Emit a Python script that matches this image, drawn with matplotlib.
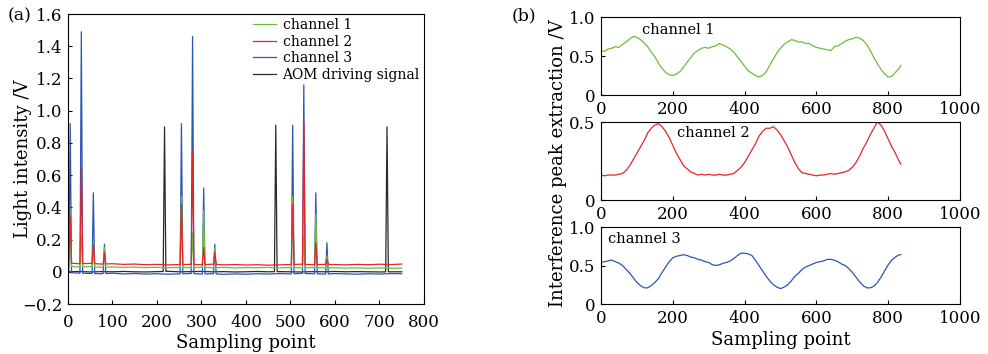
import numpy as np
import matplotlib.pyplot as plt

plt.rcParams['font.family'] = ['DejaVu Serif']

GREEN = '#6cbf3a'
RED = '#e3262b'
BLUE = '#2d55b5'
BLACK = '#2b2b2b'

# ---------- (a) raw light intensity ----------
spike_x = [5, 30, 57, 82, 217, 255, 280, 305, 330, 467, 505, 530, 557, 582, 717]
ch1_spikes = [0.30, 0.22, 0.18, 0.15, 0.0, 0.47, 0.24, 0.38, 0.15, 0.0, 0.47, 0.23, 0.36, 0.10, 0.0]
ch2_spikes = [0.35, 0.65, 0.17, 0.12, 0.0, 0.42, 0.75, 0.15, 0.12, 0.0, 0.42, 0.93, 0.18, 0.08, 0.0]
ch3_spikes = [0.92, 1.49, 0.49, 0.17, 0.0, 0.92, 1.46, 0.52, 0.17, 0.0, 0.91, 1.16, 0.49, 0.18, 0.0]
aom_spikes = [0.0, 0.0, 0.0, 0.0, 0.90, 0.0, 0.0, 0.0, 0.0, 0.91, 0.0, 0.0, 0.0, 0.0, 0.90]

# baseline levels read every 25 sampling points
base_x = list(range(0, 751, 25))
ch1_base = [0.035, 0.030, 0.032, 0.028, 0.030, 0.027, 0.029, 0.026, 0.028, 0.025, 0.027,
            0.026, 0.028, 0.025, 0.027, 0.024, 0.026, 0.025, 0.027, 0.024, 0.026, 0.025,
            0.027, 0.024, 0.025, 0.023, 0.024, 0.022, 0.024, 0.022, 0.023]
ch2_base = [0.055, 0.050, 0.052, 0.048, 0.050, 0.046, 0.048, 0.044, 0.046, 0.043, 0.045,
            0.046, 0.044, 0.047, 0.043, 0.045, 0.042, 0.044, 0.041, 0.043, 0.045, 0.047,
            0.044, 0.046, 0.045, 0.043, 0.046, 0.044, 0.047, 0.045, 0.048]
ch3_base = [-0.005, -0.008, -0.010, -0.012, -0.009, -0.013, -0.011, -0.014, -0.012, -0.015,
            -0.013, -0.011, -0.014, -0.012, -0.016, -0.013, -0.015, -0.012, -0.014, -0.011,
            -0.013, -0.010, -0.012, -0.014, -0.011, -0.013, -0.015, -0.012, -0.014, -0.011,
            -0.012]
aom_base = [0.000, 0.002, -0.001, 0.001, 0.000, 0.002, 0.000, -0.001, 0.001, 0.003, 0.000,
            0.001, 0.002, 0.000, 0.001, -0.001, 0.000, 0.002, 0.000, 0.001, 0.000, -0.001,
            0.001, 0.000, 0.002, 0.000, 0.001, 0.000, -0.001, 0.000, 0.000]

# ---------- (b) interference peak extraction ----------
p_x = list(range(0, 831, 10)) + [835]
p1_y = [0.57, 0.56, 0.59, 0.60, 0.62, 0.61, 0.65, 0.68, 0.72, 0.75, 0.74, 0.71, 0.67, 0.62,
        0.55, 0.49, 0.41, 0.34, 0.29, 0.26, 0.25, 0.27, 0.30, 0.36, 0.42, 0.48, 0.54, 0.57,
        0.60, 0.61, 0.60, 0.62, 0.63, 0.66, 0.64, 0.62, 0.59, 0.55, 0.49, 0.43, 0.37, 0.31,
        0.28, 0.25, 0.23, 0.25, 0.30, 0.38, 0.46, 0.54, 0.60, 0.65, 0.68, 0.71, 0.70, 0.68,
        0.68, 0.66, 0.66, 0.63, 0.61, 0.60, 0.59, 0.58, 0.57, 0.62, 0.63, 0.66, 0.69, 0.71,
        0.72, 0.74, 0.73, 0.70, 0.65, 0.57, 0.48, 0.40, 0.33, 0.27, 0.23, 0.24, 0.29, 0.34,
        0.38]
p2_y = [0.160, 0.155, 0.160, 0.160, 0.160, 0.165, 0.170, 0.190, 0.220, 0.260, 0.300, 0.340,
        0.380, 0.430, 0.460, 0.480, 0.490, 0.470, 0.440, 0.400, 0.350, 0.300, 0.260, 0.220,
        0.200, 0.180, 0.170, 0.160, 0.165, 0.160, 0.165, 0.160, 0.160, 0.165, 0.160, 0.160,
        0.165, 0.170, 0.190, 0.210, 0.240, 0.280, 0.320, 0.360, 0.410, 0.440, 0.460, 0.460,
        0.470, 0.450, 0.420, 0.380, 0.340, 0.290, 0.240, 0.200, 0.175, 0.170, 0.165, 0.160,
        0.155, 0.160, 0.160, 0.165, 0.170, 0.165, 0.170, 0.175, 0.180, 0.190, 0.210, 0.240,
        0.280, 0.330, 0.370, 0.420, 0.460, 0.500, 0.480, 0.440, 0.390, 0.340, 0.300, 0.250,
        0.230]
p3_y = [0.54, 0.55, 0.56, 0.57, 0.55, 0.53, 0.50, 0.45, 0.40, 0.34, 0.28, 0.24, 0.21, 0.21,
        0.24, 0.28, 0.33, 0.41, 0.48, 0.55, 0.60, 0.62, 0.63, 0.64, 0.63, 0.61, 0.60, 0.58,
        0.57, 0.55, 0.54, 0.51, 0.50, 0.51, 0.53, 0.54, 0.56, 0.59, 0.63, 0.66, 0.66, 0.65,
        0.63, 0.57, 0.50, 0.43, 0.36, 0.30, 0.25, 0.22, 0.20, 0.22, 0.25, 0.30, 0.36, 0.40,
        0.45, 0.48, 0.50, 0.52, 0.54, 0.55, 0.56, 0.58, 0.58, 0.57, 0.55, 0.52, 0.50, 0.46,
        0.41, 0.35, 0.29, 0.24, 0.21, 0.21, 0.23, 0.28, 0.35, 0.43, 0.51, 0.57, 0.61, 0.64,
        0.64]


def spike_series(spikes, base, half=3):
    # baseline with narrow spikes at the spike positions
    xs = list(base_x)
    for sx, h in zip(spike_x, spikes):
        if h > 0:
            xs += [sx - half, sx, sx + half]
    xs = np.array(sorted(set(xs)), dtype=float)
    ys = np.interp(xs, base_x, base)
    for sx, h in zip(spike_x, spikes):
        if h > 0:
            ys[xs == sx] = h
    return xs, ys


fig = plt.figure(figsize=(9.88, 3.54), dpi=100)

ax = fig.add_axes([0.0688, 0.1412, 0.3603, 0.8192])
# blue underneath, red on top so the lower peaks stay visible
lines = {}
for spikes, base, col, lab in [(aom_spikes, aom_base, BLACK, 'AOM driving signal'),
                               (ch3_spikes, ch3_base, BLUE, 'channel 3'),
                               (ch1_spikes, ch1_base, GREEN, 'channel 1'),
                               (ch2_spikes, ch2_base, RED, 'channel 2')]:
    x, y = spike_series(spikes, base)
    lines[lab], = ax.plot(x, y, color=col, lw=0.9, label=lab)

labels = ['channel 1', 'channel 2', 'channel 3', 'AOM driving signal']
ax.legend([lines[k] for k in labels], labels, loc='upper right',
          frameon=False, fontsize=10, handlelength=1.65, labelspacing=0.18,
          borderaxespad=0.0, borderpad=0.3, handletextpad=0.5)
ax.set_xlim(0, 800)
ax.set_ylim(-0.2, 1.6)
ax.set_xticks(range(0, 801, 100))
ax.set_yticks(np.arange(-0.2, 1.61, 0.2))
ax.set_yticklabels(['\u22120.2', '0', '0.2', '0.4', '0.6', '0.8', '1.0', '1.2', '1.4', '1.6'])
ax.tick_params(direction='in', labelsize=12, length=3)
ax.tick_params(axis='x', pad=7)
ax.tick_params(axis='y', pad=4)
ax.set_xlabel('Sampling point', fontsize=13, labelpad=2)
ax.set_ylabel('Light intensity /V', fontsize=13, labelpad=-7)
fig.text(0.008, 0.955, '(a)', fontsize=12.5, va='center')

# right column: three stacked panels
rects = [[0.6083, 0.7316, 0.3634, 0.2203],
         [0.6083, 0.4350, 0.3634, 0.2203],
         [0.6083, 0.1412, 0.3634, 0.2175]]
panels = [(p1_y, GREEN, 1.0, 'channel 1', 114, 0.83),
          (p2_y, RED, 0.5, 'channel 2', 212, 0.43),
          (p3_y, BLUE, 1.0, 'channel 3', 20, 0.84)]
for rect, (py, col, ytop, name, tx, ty) in zip(rects, panels):
    a = fig.add_axes(rect)
    a.plot(p_x, py, color=col, lw=0.9)
    a.set_xlim(0, 1000)
    a.set_ylim(0, ytop)
    a.set_xticks(range(0, 1001, 200))
    if ytop == 1.0:
        a.set_yticks([0, 0.5, 1.0])
        a.set_yticklabels(['0', '0.5', '1.0'])
    else:
        a.set_yticks([0, 0.5])
        a.set_yticklabels(['0', '0.5'])
    a.tick_params(direction='in', labelsize=12, length=3, pad=4)
    a.text(tx, ty, name, fontsize=10.5, va='center')
    last = a

last.set_xlabel('Sampling point', fontsize=13, labelpad=3)
fig.text(0.565, 0.54, 'Interference peak extraction /V', fontsize=13,
         rotation=90, ha='center', va='center')
fig.text(0.518, 0.955, '(b)', fontsize=12.5, va='center')

plt.savefig('out.png', dpi=100)
